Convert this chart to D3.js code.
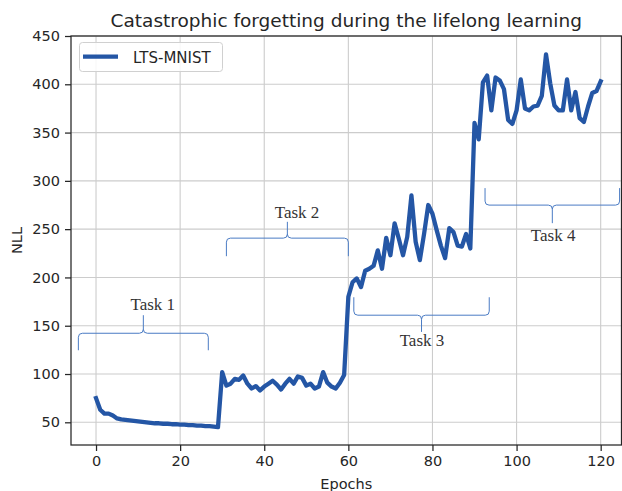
<!DOCTYPE html>
<html><head><meta charset="utf-8">
<script src="https://cdn.jsdelivr.net/npm/d3@7"></script>
<style>body{margin:0;background:#fff}svg{display:block}</style>
</head><body>
<svg id="c" width="622" height="491"></svg>
<script>
const epochs = d3.range(0, 121);
const nll = [
  75, 63, 59, 59, 57, 54, 53, 52.5, 52, 51.5,
  51, 50.5, 50, 49.5, 49, 49, 48.5, 48.5, 48, 48,
  47.5, 47.5, 47, 47, 46.5, 46.5, 46, 46, 45.5, 45,
  102, 88, 90, 95, 94, 98.5, 90, 85, 87.5, 83,
  87, 90, 93, 89, 84, 90, 95, 90, 97.5, 96,
  88, 90, 85, 87, 102, 91, 87, 85, 91, 99,
  180, 195, 199, 190, 207, 209, 212, 228, 209, 241,
  223, 256, 240, 223, 242, 285, 237, 218, 245, 275,
  266, 249, 233, 220, 251, 247, 233, 232, 245, 230,
  360, 343, 402, 409, 373, 407, 404, 395, 363, 359,
  373, 405, 375, 373, 377, 378, 388, 431, 401, 378,
  373, 373, 405, 373, 392, 365, 361, 377, 391, 393,
  403
];
const xTicks = [0, 20, 40, 60, 80, 100, 120];
const yTicks = [50, 100, 150, 200, 250, 300, 350, 400, 450];
const taskLabels = ["Task 1", "Task 2", "Task 3", "Task 4"];
// brace geometry in data units: x start, x end, line y, leg-end y, tip y
const braceX0 = [-4.2, 31.0, 61.3, 92.5];
const braceX1 = [26.7, 60.0, 93.5, 124.5];
const braceLine = [142.2, 240.7, 160.9, 274.9];
const braceEnd = [124.6, 222.0, 179.5, 292.5];
const braceTip = [160.9, 257.6, 143.6, 256.2];
const labelX = [13.5, 47.8, 77.5, 108.7];
const labelY = [166.5, 261.5, 128.5, 238];

const svg = d3.select("#c");
const L = 71, R = 621.5, T = 36, B = 445;
const x = d3.scaleLinear().domain([-5.95, 124.95]).range([L, R]);
const y = d3.scaleLinear().domain([26.5, 450]).range([B, T]);
const font = "'DejaVu Sans', sans-serif";
const ink = "#262626";

// grid
svg.append("g").selectAll("line").data(xTicks).join("line")
  .attr("x1", d => x(d)).attr("x2", d => x(d)).attr("y1", T).attr("y2", B)
  .attr("stroke", "#cccccc").attr("stroke-width", 1.1);
svg.append("g").selectAll("line").data(yTicks).join("line")
  .attr("y1", d => y(d)).attr("y2", d => y(d)).attr("x1", L).attr("x2", R)
  .attr("stroke", "#cccccc").attr("stroke-width", 1.1);

// axes
const xAxis = svg.append("g").attr("transform", `translate(0,${B})`)
  .call(d3.axisBottom(x).tickValues(xTicks).tickSize(6).tickPadding(5).tickFormat(d3.format("d")));
const yAxis = svg.append("g").attr("transform", `translate(${L},0)`)
  .call(d3.axisLeft(y).tickValues(yTicks).tickSize(6).tickPadding(5).tickFormat(d3.format("d")));
[xAxis, yAxis].forEach(g => {
  g.select(".domain").remove();
  g.selectAll("line").attr("stroke", ink).attr("stroke-width", 1.25);
  g.selectAll("text").attr("fill", ink).style("font-family", font).style("font-size", "14.5px");
});
// spines
svg.append("rect").attr("x", L).attr("y", T).attr("width", R - L).attr("height", B - T)
  .attr("fill", "none").attr("stroke", ink).attr("stroke-width", 1.25);

// line
const line = d3.line().x((d, i) => x(epochs[i])).y(d => y(d));
svg.append("path").datum(nll).attr("d", line)
  .attr("fill", "none").attr("stroke", "#2456a5").attr("stroke-width", 4.3)
  .attr("stroke-linejoin", "round").attr("stroke-linecap", "square");

// braces
const r = 4;
taskLabels.forEach((lab, i) => {
  const x0 = x(braceX0[i]), x1 = x(braceX1[i]), cx = (x0 + x1) / 2;
  const yl = y(braceLine[i]), ye = y(braceEnd[i]), yt = y(braceTip[i]);
  const sE = Math.sign(ye - yl), sT = Math.sign(yt - yl);
  const p = `M${x0},${ye} L${x0},${yl + sE * r} Q${x0},${yl} ${x0 + r},${yl} L${cx - r},${yl} Q${cx},${yl} ${cx},${yl + sT * r} L${cx},${yt}` +
    ` M${cx},${yl + sT * r} Q${cx},${yl} ${cx + r},${yl} L${x1 - r},${yl} Q${x1},${yl} ${x1},${yl + sE * r} L${x1},${ye}`;
  svg.append("path").attr("d", p).attr("fill", "none").attr("stroke", "#4a7bc4").attr("stroke-width", 1);
  svg.append("text").attr("x", x(labelX[i])).attr("y", y(labelY[i]))
    .attr("text-anchor", "middle").attr("fill", "#333")
    .style("font-family", "'Liberation Serif', serif").style("font-size", "17px").text(lab);
});

// legend
const lg = svg.append("g");
lg.append("rect").attr("x", 79.5).attr("y", 42.5).attr("width", 143).attr("height", 29).attr("rx", 3)
  .attr("fill", "#fff").attr("fill-opacity", 0.85).attr("stroke", "#d0d0d0").attr("stroke-width", 1);
lg.append("line").attr("x1", 83).attr("x2", 118).attr("y1", 56.7).attr("y2", 56.7)
  .attr("stroke", "#2456a5").attr("stroke-width", 4.3);
lg.append("text").attr("x", 133).attr("y", 62.5).attr("fill", ink)
  .style("font-family", font).style("font-size", "15px").text("LTS-MNIST");

// titles
svg.append("text").attr("x", (L + R) / 2).attr("y", 26.5).attr("text-anchor", "middle").attr("fill", ink)
  .style("font-family", font).style("font-size", "18.5px").text("Catastrophic forgetting during the lifelong learning");
svg.append("text").attr("x", (L + R) / 2).attr("y", 489).attr("text-anchor", "middle").attr("fill", ink)
  .style("font-family", font).style("font-size", "14.5px").text("Epochs");
svg.append("text").attr("transform", `translate(22,${(T + B) / 2}) rotate(-90)`).attr("text-anchor", "middle").attr("fill", ink)
  .style("font-family", font).style("font-size", "14.5px").text("NLL");
</script>
</body></html>
